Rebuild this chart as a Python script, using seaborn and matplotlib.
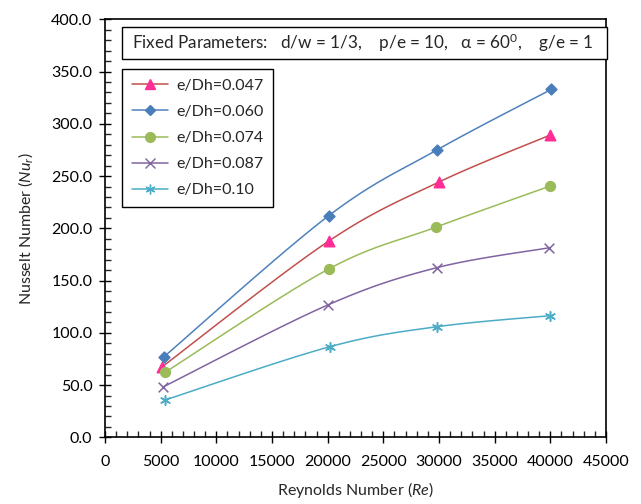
import numpy as np
import pandas as pd
import seaborn as sns
import matplotlib
matplotlib.use("Agg")
import matplotlib.pyplot as plt
from matplotlib.lines import Line2D
from matplotlib.patches import Rectangle
from matplotlib.ticker import MultipleLocator, FormatStrFormatter

# values
labels = ["e/Dh=0.047", "e/Dh=0.060", "e/Dh=0.074", "e/Dh=0.087", "e/Dh=0.10"]
re_047 = [5150, 20100, 30000, 40000]
re_060 = [5300, 20100, 29800, 40100]
re_074 = [5400, 20100, 29700, 40000]
re_087 = [5200, 20000, 29800, 39900]
re_010 = [5400, 20200, 29800, 40000]
nu_047 = [67.6, 187.8, 244.3, 289.3]
nu_060 = [77.1, 212.1, 274.9, 333.0]
nu_074 = [62.2, 161.1, 201.0, 240.5]
nu_087 = [48.1, 126.6, 162.3, 181.4]
nu_010 = [35.7, 86.7, 105.8, 116.4]

line_colors = ["#C0504D", "#4F81BD", "#9BBB59", "#8064A2", "#4BACC6"]
marker_colors = ["#FF2D95", "#4A7EBB", "#9BBB59", "#8064A2", "#4BACC6"]
markers = ["^", "D", "o", "x", (6, 2, 0)]
msizes = [7.5, 5.5, 7, 7, 7]

rows = []
for lab, xs, ys in zip(labels, [re_047, re_060, re_074, re_087, re_010],
                       [nu_047, nu_060, nu_074, nu_087, nu_010]):
    for x, y in zip(xs, ys):
        rows.append({"series": lab, "Re": x, "Nu": y})
df = pd.DataFrame(rows)


def smooth(xs, ys, sx=45000.0, sy=400.0 * 418 / 501, n=40):
    # Excel style smoothed line (bezier, catmull-rom control points)
    p = np.column_stack([np.asarray(xs) / sx, np.asarray(ys) / sy])
    pts = np.vstack([p[0], p, p[-1]])
    out = []
    for i in range(1, len(pts) - 2):
        p0, p1, p2, p3 = pts[i - 1], pts[i], pts[i + 1], pts[i + 2]
        c1 = p1 + (p2 - p0) / 6
        c2 = p2 - (p3 - p1) / 6
        t = np.linspace(0, 1, n)[:, None]
        seg = ((1 - t) ** 3 * p1 + 3 * (1 - t) ** 2 * t * c1
               + 3 * (1 - t) * t ** 2 * c2 + t ** 3 * p2)
        out.append(seg)
    out = np.vstack(out)
    return out[:, 0] * sx, out[:, 1] * sy


sns.set_style("white")
plt.rcParams["font.family"] = ["Lato", "DejaVu Sans"]
plt.rcParams["mathtext.fontset"] = "custom"
plt.rcParams["mathtext.rm"] = "Lato"
plt.rcParams["mathtext.it"] = "Lato:italic"

fig = plt.figure(figsize=(6.41, 5.04), dpi=100)
ax = fig.add_axes([105 / 641, (504 - 437.3) / 504, 501 / 641, 418 / 504])

handles = []
for i, lab in enumerate(labels):
    d = df[df.series == lab]
    sx, sy = smooth(d.Re.values, d.Nu.values)
    ax.plot(sx, sy, color=line_colors[i], lw=1.1, zorder=2)
    sns.scatterplot(data=d, x="Re", y="Nu", marker=markers[i], s=msizes[i] ** 2,
                    color=marker_colors[i], edgecolor=marker_colors[i],
                    linewidth=1.1, ax=ax, zorder=3, legend=False)
    handles.append(Line2D([0], [0], color=line_colors[i], lw=1.1, marker=markers[i],
                          markersize=msizes[i], markerfacecolor=marker_colors[i],
                          markeredgecolor=marker_colors[i], label=lab))

ax.set_xlim(0, 45000)
ax.set_ylim(0, 400)
ax.xaxis.set_major_locator(MultipleLocator(5000))
ax.xaxis.set_minor_locator(MultipleLocator(1000))
ax.yaxis.set_major_locator(MultipleLocator(50))
ax.yaxis.set_minor_locator(MultipleLocator(10))
ax.yaxis.set_major_formatter(FormatStrFormatter("%.1f"))
ax.tick_params(which="major", direction="inout", length=8, width=1, labelsize=11.5,
               colors="black", pad=5)
ax.tick_params(which="minor", direction="in", length=4, width=1)
ax.tick_params(axis="x", which="both", bottom=True, pad=9)
ax.tick_params(axis="y", which="both", left=True)
for s in ax.spines.values():
    s.set_color("black")
    s.set_linewidth(1.2)

ax.set_xlabel("Reynolds Number ($\\mathit{Re}$)", fontsize=11.5, labelpad=8)
ax.set_ylabel("Nusselt Number ($\\mathit{Nu_r}$)", fontsize=11.5, labelpad=12)

ax.add_patch(Rectangle((0.034, 0.905), 0.968, 0.0766, transform=ax.transAxes,
                       fill=True, facecolor="white", edgecolor="black", lw=1,
                       clip_on=False, zorder=4))
ax.text(0.054, 0.943,
        "Fixed Parameters:   d/w = 1/3,    p/e = 10,   \u03b1 = 60$^0$,    g/e = 1",
        transform=ax.transAxes, fontsize=12.3, va="center", ha="left", zorder=5)

leg = ax.legend(handles=handles, loc="upper left", bbox_to_anchor=(0.034, 0.881),
                borderaxespad=0, frameon=True, fancybox=False, framealpha=1,
                edgecolor="black", fontsize=11.5, handlelength=2.3,
                labelspacing=0.75, borderpad=0.6, handletextpad=0.5)
leg.get_frame().set_linewidth(1)

fig.savefig("out.png", dpi=100)
